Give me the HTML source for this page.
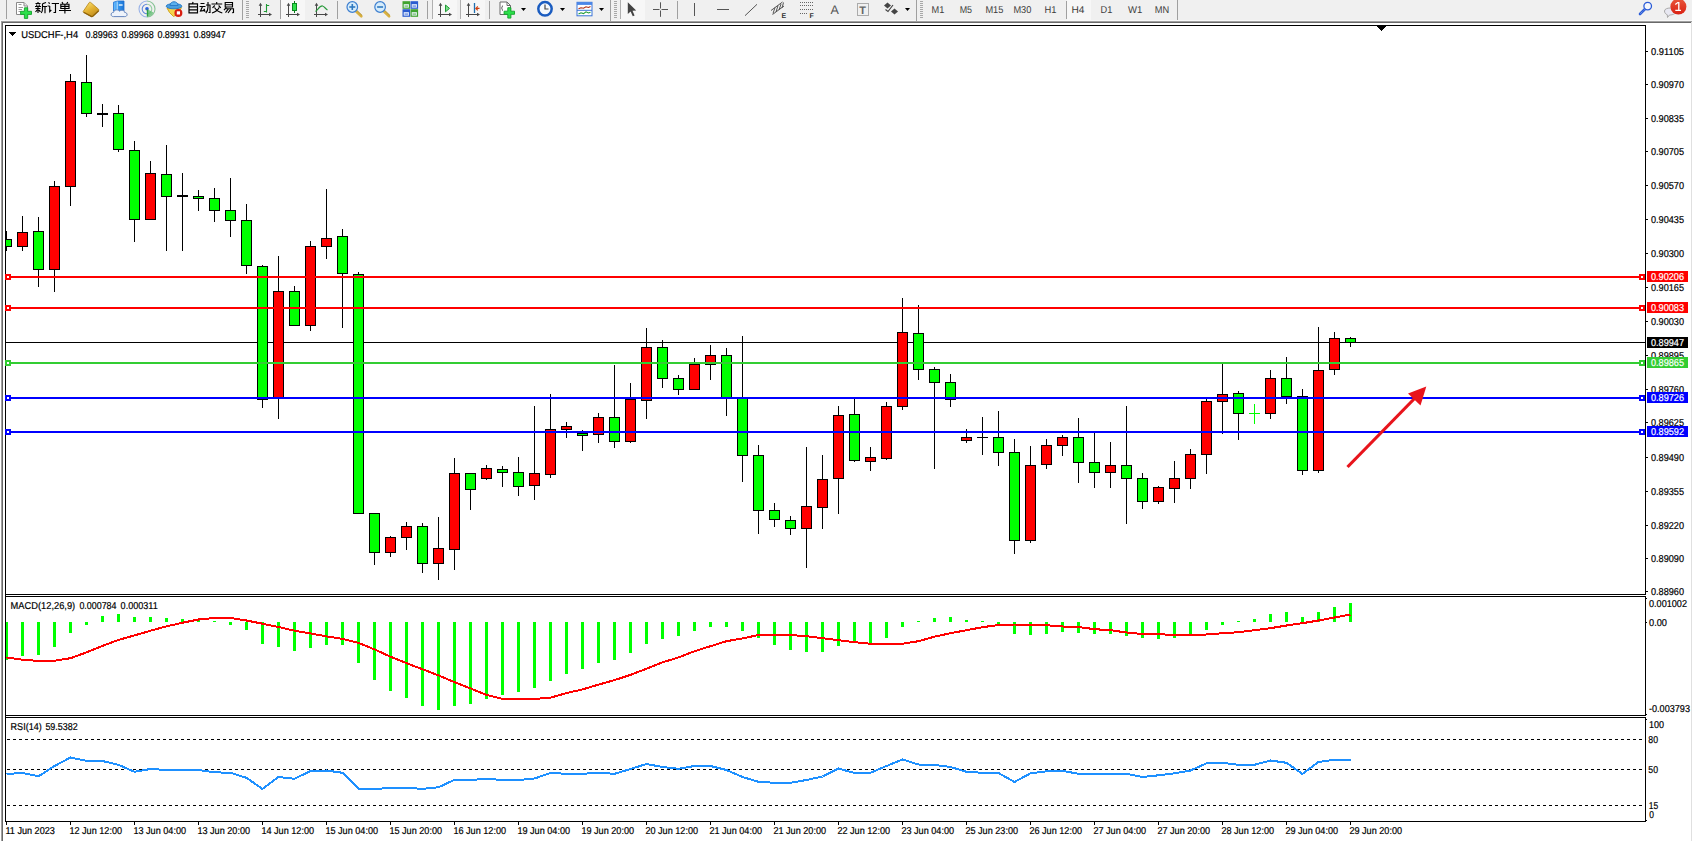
<!DOCTYPE html>
<html><head><meta charset="utf-8"><title>USDCHF H4</title>
<style>
html,body{margin:0;padding:0;background:#fff;}
body{width:1692px;height:841px;overflow:hidden;font-family:"Liberation Sans",sans-serif;}
svg{display:block;position:absolute;left:0;top:0;}
text{font-family:"Liberation Sans",sans-serif;font-size:10px;text-rendering:geometricPrecision;}
.cr{shape-rendering:crispEdges;}
</style></head><body>
<svg width="1692" height="841" viewBox="0 0 1692 841">
<rect x="0" y="0" width="1692" height="841" fill="#ffffff"/>
<g class="cr">
<rect x="0" y="0" width="1692" height="20" fill="#f0f0f0"/>
<rect x="0" y="20" width="1692" height="1" fill="#f8f8f8"/>
<rect x="1" y="21" width="1691" height="1" fill="#a0a0a0"/>
<rect x="2" y="22" width="1689" height="1" fill="#696969"/>
<rect x="1" y="21" width="1" height="820" fill="#a0a0a0"/>
<rect x="2" y="22" width="1" height="819" fill="#696969"/>
<rect x="1691" y="22" width="1" height="819" fill="#e0e0e0"/>
</g>
<rect class="cr" x="6" y="0" width="1" height="19" fill="#a0a0a0"/>
<path d="M16.5,2.5H24L27.5,6V14.5H16.5Z" fill="#fff" stroke="#8a8a8a" stroke-width="1"/>
<path d="M24,2.5V6H27.5" fill="#e8e8e8" stroke="#8a8a8a" stroke-width="1"/>
<path d="M18.5,4.5H21.5M18.5,7.5H23M18.5,9.5H22M18.5,11.5H21" stroke="#999" stroke-width="1"/>
<path d="M24.400,7.800H27.700V11.300H31.500V14.400H27.700V18.400H24.400V14.400H20.600V11.300H24.400Z" fill="#2be04a" stroke="#12a22a" stroke-width="0.900"/>
<g stroke="#000" stroke-width="1.15" fill="none" stroke-linecap="butt">
<path transform="translate(35,2)" d="M3,0V1.5M0.5,1.5H5.5M1.5,2.5L2,4M4.5,2.5L4,4M0,4.5H6M0.5,6.5H5.5M3,4.5V11M2.5,7.5L0.5,10M3.8,8L5.5,9.8M11,0.5L7.5,1.8M7.5,1.8V7C7.5,9 7,10 6.3,11M7.5,4.5H12M10,4.5V11.2"/>
<path transform="translate(47.5,2)" d="M1,0.3L2.2,1.7M0,4H2.2M2.2,4V9.6L3.8,8M4.2,1.5H11.5M8,1.5V10.5H6"/>
<path transform="translate(59,2)" d="M3,0L4,1.7M8.8,0L7.7,1.7M1.8,2.2H10V6.5H1.8ZM1.8,4.3H10M5.9,2.2V11.5M0,8.5H12"/>
</g>
<defs><linearGradient id="gd" x1="0.2" y1="0" x2="0.8" y2="1"><stop offset="0" stop-color="#f9e070"/><stop offset="0.5" stop-color="#e2b030"/><stop offset="1" stop-color="#b9861a"/></linearGradient></defs>
<path d="M83.300,11.300L89.200,2.600Q89.800,1.800 90.600,2.400L98.600,9.300Q99.300,10 98.700,10.700L92.800,16.300Q92,16.900 91.200,16.400L83.600,12.300Q82.900,11.900 83.300,11.300Z" fill="url(#gd)" stroke="#b58418" stroke-width="0.800"/>
<path d="M83.600,12.300L91.200,16.400Q92,16.900 92.800,16.300L98.700,10.700" fill="none" stroke="#8e6208" stroke-width="1.300"/>
<defs><linearGradient id="sv" x1="0" y1="0" x2="1" y2="0"><stop offset="0" stop-color="#6ec0ff"/><stop offset="0.35" stop-color="#3a9cf0"/><stop offset="1" stop-color="#1a74d6"/></linearGradient></defs>
<path d="M113.500,2.200L117.500,1H124V11H113.500Z" fill="url(#sv)" stroke="#1c6fd0" stroke-width="0.800"/>
<path d="M117.200,1.500V10" stroke="#bfe2ff" stroke-width="1"/><path d="M118.800,5H122.600" stroke="#e8f6ff" stroke-width="1.400"/>
<path d="M113.500,16.600C110.200,16.600 110.400,12.300 113.600,12.300C114,9.600 118,9 119.600,11.200C121.200,9.600 124.600,10.200 124.600,12.400C127.900,12.400 127.900,16.600 124.800,16.600Z" fill="#eef3fb" stroke="#6585bd" stroke-width="1"/>
<g fill="none" stroke-width="1.100" opacity="0.850"><path d="M147,1A8,8 0 0 0 147,17" stroke="#8aa8e6"/><path d="M147,1A8,8 0 0 1 147,17" stroke="#74bb84"/><path d="M147,4.200A4.800,4.800 0 0 0 147,13.800" stroke="#4a78d8"/><path d="M147,4.200A4.800,4.800 0 0 1 147,13.800" stroke="#86c894"/></g>
<path d="M147,9L153.500,12.500A7.500,7.500 0 0 1 147,16.500Z" fill="#5abb6c" opacity=".75"/>
<circle cx="147" cy="8.800" r="1.800" fill="#2c62d8"/><path d="M147.500,9.500V16.500" stroke="#2ea043" stroke-width="1.400"/>
<path d="M167,8L181.500,7.500L178,14L173.500,16.500L169.500,12.500Z" fill="#f5d24a" stroke="#d0a520" stroke-width="1"/>
<ellipse cx="174" cy="6.200" rx="7.800" ry="2.600" fill="#4a9fe0" stroke="#2c7cc8" stroke-width="1"/>
<path d="M170,5.500C170,0.500 178,0.500 178,5.500Z" fill="#5cb0ee" stroke="#2c7cc8" stroke-width="1"/>
<circle cx="178.400" cy="12.900" r="4" fill="#d81e10"/><rect x="176.800" y="11.300" width="3.200" height="3.200" fill="#fff"/>
<g stroke="#000" stroke-width="1.15" fill="none">
<path transform="translate(188,2)" d="M5.2,0L4.2,1.8M1,1.8H9.500V10.800H1ZM1,4.900H9.500M1,7.900H9.500"/>
<path transform="translate(199.500,2)" d="M1,1.500H5M0,4.500H6M3,4.500L1,9L5.500,8.400M4.300,6.800L5.600,9.800M6.500,3H11M10.500,3V10.500L9,10.500M8.500,0V5C8.500,8 7.500,9.800 6.300,11"/>
<path transform="translate(211,2)" d="M5.700,0V1.800M0.500,2H11.200M3.800,3.500L1.500,5.800M7.600,3.500L9.800,5.800M8.200,5.500C7,8 4,10 1,11M3.500,5.500C5,8 8,10 11.300,11"/>
<path transform="translate(223,2)" d="M2.200,0.500H9.500V5H2.200ZM2.200,2.700H9.500M3.200,5.500L1,8.200M2.600,6.700H10.500V10.500L9,10.800M5.600,6.700L2.500,10.700M8.200,6.700L5,11"/>
</g>
<rect class="cr" x="242" y="0" width="1" height="20" fill="#a0a0a0"/>
<rect class="cr" x="246" y="1" width="3" height="1" fill="#a8a8a8"/>
<rect class="cr" x="246" y="3" width="3" height="1" fill="#a8a8a8"/>
<rect class="cr" x="246" y="5" width="3" height="1" fill="#a8a8a8"/>
<rect class="cr" x="246" y="7" width="3" height="1" fill="#a8a8a8"/>
<rect class="cr" x="246" y="9" width="3" height="1" fill="#a8a8a8"/>
<rect class="cr" x="246" y="11" width="3" height="1" fill="#a8a8a8"/>
<rect class="cr" x="246" y="13" width="3" height="1" fill="#a8a8a8"/>
<rect class="cr" x="246" y="15" width="3" height="1" fill="#a8a8a8"/>
<rect class="cr" x="246" y="17" width="3" height="1" fill="#a8a8a8"/>
<g stroke="#484848" stroke-width="1" fill="none"><path d="M260.5,4.500V17M258,14.500H270"/></g>
<path d="M260.5,2.800L262.3,5.800H258.7Z M272,14.500L269,12.700V16.300Z" fill="#484848"/>
<path d="M266.500,4V12.500M266.500,5.500H269.200M263.800,11.500H266.500" stroke="#1f9a35" stroke-width="1.100" fill="none"/>
<rect class="cr" x="280" y="0" width="1" height="19" fill="#a0a0a0"/>
<rect class="cr" x="281" y="0" width="24" height="20" fill="#f7f7f7"/>
<g stroke="#484848" stroke-width="1" fill="none"><path d="M288.5,4.500V17M286,14.500H298"/></g>
<path d="M288.5,2.800L290.3,5.800H286.7Z M300,14.500L297,12.700V16.300Z" fill="#484848"/>
<path d="M294.500,1V13" stroke="#0a7a1a" stroke-width="1"/><rect x="292.500" y="3.500" width="4" height="7" fill="#2ee04a" stroke="#0a8a20" stroke-width="1"/>
<g stroke="#484848" stroke-width="1" fill="none"><path d="M316.5,4.500V17M314,14.500H326"/></g>
<path d="M316.5,2.800L318.3,5.800H314.7Z M328,14.500L325,12.700V16.300Z" fill="#484848"/>
<path d="M315.500,11.500C318,9.500 320,5.500 322.500,6C324.500,6.500 325.500,9 327.500,10" stroke="#2a9a3c" stroke-width="1.200" fill="none"/>
<rect class="cr" x="337" y="1" width="1" height="18" fill="#a0a0a0"/>
<path d="M355.8,11L361.3,16.300" stroke="#d8b040" stroke-width="2.600" stroke-linecap="round"/>
<path d="M355.8,11L361.3,16.300" stroke="#a07c18" stroke-width="0.600" fill="none" transform="translate(0.9,-0.9)"/>
<circle cx="352.3" cy="7" r="5.300" fill="#d6ecfb" stroke="#3d7fd0" stroke-width="1.200"/>
<path d="M349.3,7H355.3" stroke="#2f78c0" stroke-width="1.600"/>
<path d="M352.3,4V10" stroke="#2f78c0" stroke-width="1.600"/>
<path d="M383.6,11L389.1,16.300" stroke="#d8b040" stroke-width="2.600" stroke-linecap="round"/>
<path d="M383.6,11L389.1,16.300" stroke="#a07c18" stroke-width="0.600" fill="none" transform="translate(0.9,-0.9)"/>
<circle cx="380.1" cy="7" r="5.300" fill="#d6ecfb" stroke="#3d7fd0" stroke-width="1.200"/>
<path d="M377.1,7H383.1" stroke="#2f78c0" stroke-width="1.600"/>
<rect x="402.5" y="1.2" width="7.600" height="7.600" fill="#3fa32f"/><rect x="403.7" y="4.2" width="5.200" height="3.400" fill="#eef6ff"/><rect x="404.5" y="5.6000000000000005" width="3.600" height="0.900" fill="#3fa32f"/>
<rect x="410.5" y="1.2" width="7.600" height="7.600" fill="#2a5bd0"/><rect x="411.7" y="4.2" width="5.200" height="3.400" fill="#eef6ff"/><rect x="412.5" y="5.6000000000000005" width="3.600" height="0.900" fill="#2a5bd0"/>
<rect x="402.5" y="9.2" width="7.600" height="7.600" fill="#2a5bd0"/><rect x="403.7" y="12.2" width="5.200" height="3.400" fill="#eef6ff"/><rect x="404.5" y="13.6" width="3.600" height="0.900" fill="#2a5bd0"/>
<rect x="410.5" y="9.2" width="7.600" height="7.600" fill="#3fa32f"/><rect x="411.7" y="12.2" width="5.200" height="3.400" fill="#eef6ff"/><rect x="412.5" y="13.6" width="3.600" height="0.900" fill="#3fa32f"/>
<rect class="cr" x="427" y="1" width="1" height="18" fill="#a0a0a0"/>
<rect class="cr" x="432" y="0" width="25" height="20" fill="#f7f7f7"/>
<rect class="cr" x="432" y="0" width="1" height="19" fill="#b0b0b0"/>
<g stroke="#484848" stroke-width="1" fill="none"><path d="M440.5,4.500V17M438,14.500H450"/></g>
<path d="M440.5,2.800L442.3,5.800H438.7Z M452,14.500L449,12.700V16.300Z" fill="#484848"/>
<path d="M445.500,5L449.500,8.400L445.500,11.800Z" fill="#7be08a" stroke="#1f9a35" stroke-width="1"/>
<rect class="cr" x="460" y="0" width="25" height="20" fill="#f7f7f7"/>
<rect class="cr" x="460" y="0" width="1" height="19" fill="#b0b0b0"/>
<g stroke="#484848" stroke-width="1" fill="none"><path d="M468.5,4.500V17M466,14.500H478"/></g>
<path d="M468.5,2.800L470.3,5.800H466.7Z M480,14.500L477,12.700V16.300Z" fill="#484848"/>
<path d="M474.500,3V13" stroke="#1f6fb0" stroke-width="1.300"/><path d="M479.500,8.400H475.800M477.800,6.400L475.800,8.400L477.800,10.400" stroke="#d04010" stroke-width="1.100" fill="none"/>
<rect class="cr" x="489" y="1" width="1" height="18" fill="#a0a0a0"/>
<path d="M500,2H507L510.500,5.500V14.500H500Z" fill="#fff" stroke="#6a6a6a" stroke-width="1"/><path d="M507,2V5.500H510.500" fill="none" stroke="#6a6a6a" stroke-width="1"/>
<path d="M503,5.500C502,5.500 502.500,8 501.500,8C502.500,8 502,10.800 503,10.800" stroke="#555" stroke-width="1" fill="none"/>
<path d="M507.800,7.700H510.900V11.200H514.500V14.300H510.900V18.100H507.800V14.300H504.100V11.200H507.800Z" fill="#2be04a" stroke="#12a22a" stroke-width="0.900"/>
<polygon points="521,8 526,8 523.5,11" fill="#000"/>
<circle cx="545" cy="8.800" r="6.700" fill="#f4f8fc" stroke="#1a5cc0" stroke-width="2.500"/>
<path d="M545,4.500V9H548.500" stroke="#444" stroke-width="1.200" fill="none"/>
<polygon points="560,8 565,8 562.5,11" fill="#000"/>
<rect x="577" y="2.300" width="15" height="13.500" fill="#fff" stroke="#3a74d8" stroke-width="1"/><rect x="577" y="2.300" width="15" height="2.600" fill="#4a86e8"/>
<path d="M578.500,8.800L581,7.800L583.500,8.200L586,6.800L588.500,7.500L590.500,6.500" stroke="#b02a10" stroke-width="1.100" fill="none"/>
<path d="M577,10.300H592" stroke="#3a74d8" stroke-width="1"/>
<path d="M578.500,14L581,12.800L583.500,13.600L586,11.800L588.500,13L590.500,12.200" stroke="#1f9a35" stroke-width="1.100" fill="none"/>
<polygon points="599,8 604,8 601.5,11" fill="#000"/>
<rect class="cr" x="610" y="0" width="1" height="21" fill="#a0a0a0"/>
<rect class="cr" x="614" y="1" width="3" height="1" fill="#a8a8a8"/>
<rect class="cr" x="614" y="3" width="3" height="1" fill="#a8a8a8"/>
<rect class="cr" x="614" y="5" width="3" height="1" fill="#a8a8a8"/>
<rect class="cr" x="614" y="7" width="3" height="1" fill="#a8a8a8"/>
<rect class="cr" x="614" y="9" width="3" height="1" fill="#a8a8a8"/>
<rect class="cr" x="614" y="11" width="3" height="1" fill="#a8a8a8"/>
<rect class="cr" x="614" y="13" width="3" height="1" fill="#a8a8a8"/>
<rect class="cr" x="614" y="15" width="3" height="1" fill="#a8a8a8"/>
<rect class="cr" x="614" y="17" width="3" height="1" fill="#a8a8a8"/>
<rect class="cr" x="620" y="0" width="25" height="20" fill="#f7f7f7"/>
<rect class="cr" x="620" y="0" width="1" height="19" fill="#b0b0b0"/>
<path d="M627.800,2.300V14L630.600,11.500L632.800,16.300L634.600,15.500L632.500,10.800L636.200,10.600Z" fill="#444"/>
<path d="M660.500,2.300V16.800M653,9.500H668" stroke="#555" stroke-width="1" fill="none"/><rect x="659.500" y="8.500" width="2" height="2" fill="#f0f0f0"/>
<rect class="cr" x="677" y="1" width="1" height="18" fill="#a0a0a0"/>
<path d="M694.500,3V16" stroke="#555" stroke-width="1"/>
<path d="M717,9.500H729" stroke="#555" stroke-width="1"/>
<path d="M745,15.700L757,4.300" stroke="#555" stroke-width="1"/>
<g stroke="#555" stroke-width="1" fill="none"><path d="M771,10.500L782.500,2M772.500,14.500L784,6M773,13.500L775,7.500M776,12L778,5.500M779,10L781,4M782,8L783.500,2.500"/></g>
<text x="781.500" y="18" style="font-size:7px" font-weight="bold" fill="#333">E</text>
<g stroke="#666" stroke-width="1" stroke-dasharray="1 1" fill="none"><path d="M800,2.500H813.500M800,5.500H813.500M800,9.500H813.500M800,13.500H808"/></g>
<text x="809.500" y="18" style="font-size:7px" font-weight="bold" fill="#333">F</text>
<text x="830.500" y="14" style="font-size:12.500px" fill="#555">A</text>
<rect x="857.500" y="3.500" width="11" height="12" fill="none" stroke="#666" stroke-width="1" stroke-dasharray="1 1"/>
<text x="859.300" y="13.500" style="font-size:11px" font-weight="bold" fill="#666">T</text>
<path d="M884,5.500L887.500,2.500L891,5.500L887.500,8.500Z" fill="#444"/><path d="M891,11.500L894.500,8.500L898,11.500L894.500,14.500Z" fill="#444"/><path d="M885.500,9.500L888,11.500L893,5" stroke="#444" stroke-width="1.200" fill="none"/>
<polygon points="905,8 910,8 907.5,11" fill="#000"/>
<rect class="cr" x="916" y="0" width="1" height="21" fill="#a0a0a0"/>
<rect class="cr" x="920" y="1" width="3" height="1" fill="#a8a8a8"/>
<rect class="cr" x="920" y="3" width="3" height="1" fill="#a8a8a8"/>
<rect class="cr" x="920" y="5" width="3" height="1" fill="#a8a8a8"/>
<rect class="cr" x="920" y="7" width="3" height="1" fill="#a8a8a8"/>
<rect class="cr" x="920" y="9" width="3" height="1" fill="#a8a8a8"/>
<rect class="cr" x="920" y="11" width="3" height="1" fill="#a8a8a8"/>
<rect class="cr" x="920" y="13" width="3" height="1" fill="#a8a8a8"/>
<rect class="cr" x="920" y="15" width="3" height="1" fill="#a8a8a8"/>
<rect class="cr" x="920" y="17" width="3" height="1" fill="#a8a8a8"/>
<text x="931.5" y="13" style="font-size:10px" fill="#3c3c3c" textLength="12.8" lengthAdjust="spacingAndGlyphs">M1</text>
<text x="959.7" y="13" style="font-size:10px" fill="#3c3c3c" textLength="12.4" lengthAdjust="spacingAndGlyphs">M5</text>
<text x="985.4" y="13" style="font-size:10px" fill="#3c3c3c" textLength="18" lengthAdjust="spacingAndGlyphs">M15</text>
<text x="1013.4" y="13" style="font-size:10px" fill="#3c3c3c" textLength="18" lengthAdjust="spacingAndGlyphs">M30</text>
<text x="1044.6" y="13" style="font-size:10px" fill="#3c3c3c" textLength="12" lengthAdjust="spacingAndGlyphs">H1</text>
<rect class="cr" x="1067" y="0" width="24" height="20" fill="#f7f7f7"/>
<rect class="cr" x="1066" y="1" width="1" height="18" fill="#a0a0a0"/>
<text x="1071.5" y="13" style="font-size:10px" fill="#3c3c3c" textLength="13" lengthAdjust="spacingAndGlyphs">H4</text>
<text x="1100.6" y="13" style="font-size:10px" fill="#3c3c3c" textLength="11.8" lengthAdjust="spacingAndGlyphs">D1</text>
<text x="1128" y="13" style="font-size:10px" fill="#3c3c3c" textLength="14.3" lengthAdjust="spacingAndGlyphs">W1</text>
<text x="1154.8" y="13" style="font-size:10px" fill="#3c3c3c" textLength="14.4" lengthAdjust="spacingAndGlyphs">MN</text>
<rect class="cr" x="1177" y="0" width="1" height="20" fill="#a0a0a0"/>
<path d="M1644.800,9.300L1640,14" stroke="#2a5bd7" stroke-width="2.600" stroke-linecap="round"/><path d="M1644.800,9.300L1640,14" stroke="#9db8f0" stroke-width="0.800" stroke-dasharray="1 1"/>
<circle cx="1647.700" cy="6.100" r="3.800" fill="#f4f6fb" stroke="#2a5bd7" stroke-width="1.300"/>
<path d="M1664.500,11C1664.500,7 1676,7 1676,11C1676,14.500 1671,15 1669.500,15L1667.500,17.500L1667.300,14.800C1665.500,14 1664.500,12.800 1664.500,11Z" fill="#e8e8f2" stroke="#aaa" stroke-width="1"/>
<defs><linearGradient id="bg" x1="0" y1="0" x2="0" y2="1"><stop offset="0" stop-color="#e9573a"/><stop offset="1" stop-color="#d92012"/></linearGradient></defs>
<circle cx="1678.400" cy="6.600" r="8" fill="url(#bg)"/>
<path d="M1675.300,4.500L1677.800,2.600H1678.800V10.200M1675.300,10.400H1681" stroke="#fff" stroke-width="1.300" fill="none"/>
<g class="cr" fill="#000">
<rect x="5" y="25" width="1641" height="1" fill="#000"/>
<rect x="5" y="25" width="1" height="797" fill="#000"/>
<rect x="1645" y="25" width="1" height="797" fill="#000"/>
<rect x="5" y="594" width="1641" height="1" fill="#000"/>
<rect x="5" y="596" width="1641" height="1" fill="#000"/>
<rect x="5" y="715" width="1641" height="1" fill="#000"/>
<rect x="5" y="717" width="1641" height="1" fill="#000"/>
<rect x="1645" y="595" width="1" height="1" fill="#fff"/>
<rect x="1645" y="716" width="1" height="1" fill="#fff"/>
<rect x="1646" y="598" width="1" height="1" fill="#000"/>
<rect x="1646" y="714" width="1" height="1" fill="#000"/>
<rect x="1646" y="719" width="1" height="1" fill="#000"/>
<rect x="1646" y="820" width="1" height="1" fill="#000"/>
<rect x="5" y="821" width="1641" height="1" fill="#000"/>
</g>
<g class="cr">
<rect x="6" y="342" width="1639" height="1" fill="#000"/>
</g>
<g class="cr">
<rect x="6" y="231" width="1" height="20" fill="#000"/>
<rect x="1" y="239" width="11" height="8" fill="#000"/>
<rect x="2" y="240" width="9" height="6" fill="#00ff00"/>
<rect x="22" y="216" width="1" height="35" fill="#000"/>
<rect x="17" y="232" width="11" height="15" fill="#000"/>
<rect x="18" y="233" width="9" height="13" fill="#ff0000"/>
<rect x="38" y="217" width="1" height="70" fill="#000"/>
<rect x="33" y="231" width="11" height="39" fill="#000"/>
<rect x="34" y="232" width="9" height="37" fill="#00ff00"/>
<rect x="54" y="181" width="1" height="111" fill="#000"/>
<rect x="49" y="186" width="11" height="84" fill="#000"/>
<rect x="50" y="187" width="9" height="82" fill="#ff0000"/>
<rect x="70" y="74" width="1" height="132" fill="#000"/>
<rect x="65" y="81" width="11" height="106" fill="#000"/>
<rect x="66" y="82" width="9" height="104" fill="#ff0000"/>
<rect x="86" y="55" width="1" height="62" fill="#000"/>
<rect x="81" y="82" width="11" height="32" fill="#000"/>
<rect x="82" y="83" width="9" height="30" fill="#00ff00"/>
<rect x="102" y="104" width="1" height="23" fill="#000"/>
<rect x="97" y="113" width="11" height="2" fill="#000"/>
<rect x="118" y="105" width="1" height="47" fill="#000"/>
<rect x="113" y="113" width="11" height="37" fill="#000"/>
<rect x="114" y="114" width="9" height="35" fill="#00ff00"/>
<rect x="134" y="141" width="1" height="101" fill="#000"/>
<rect x="129" y="150" width="11" height="70" fill="#000"/>
<rect x="130" y="151" width="9" height="68" fill="#00ff00"/>
<rect x="150" y="161" width="1" height="59" fill="#000"/>
<rect x="145" y="173" width="11" height="47" fill="#000"/>
<rect x="146" y="174" width="9" height="45" fill="#ff0000"/>
<rect x="166" y="145" width="1" height="106" fill="#000"/>
<rect x="161" y="174" width="11" height="23" fill="#000"/>
<rect x="162" y="175" width="9" height="21" fill="#00ff00"/>
<rect x="182" y="173" width="1" height="78" fill="#000"/>
<rect x="177" y="195" width="11" height="2" fill="#000"/>
<rect x="198" y="190" width="1" height="21" fill="#000"/>
<rect x="193" y="196" width="11" height="3" fill="#000"/>
<rect x="194" y="197" width="9" height="1" fill="#00ff00"/>
<rect x="214" y="188" width="1" height="34" fill="#000"/>
<rect x="209" y="198" width="11" height="13" fill="#000"/>
<rect x="210" y="199" width="9" height="11" fill="#00ff00"/>
<rect x="230" y="178" width="1" height="59" fill="#000"/>
<rect x="225" y="210" width="11" height="11" fill="#000"/>
<rect x="226" y="211" width="9" height="9" fill="#00ff00"/>
<rect x="246" y="204" width="1" height="70" fill="#000"/>
<rect x="241" y="220" width="11" height="46" fill="#000"/>
<rect x="242" y="221" width="9" height="44" fill="#00ff00"/>
<rect x="262" y="265" width="1" height="143" fill="#000"/>
<rect x="257" y="266" width="11" height="134" fill="#000"/>
<rect x="258" y="267" width="9" height="132" fill="#00ff00"/>
<rect x="278" y="256" width="1" height="163" fill="#000"/>
<rect x="273" y="291" width="11" height="107" fill="#000"/>
<rect x="274" y="292" width="9" height="105" fill="#ff0000"/>
<rect x="294" y="286" width="1" height="40" fill="#000"/>
<rect x="289" y="291" width="11" height="35" fill="#000"/>
<rect x="290" y="292" width="9" height="33" fill="#00ff00"/>
<rect x="310" y="241" width="1" height="90" fill="#000"/>
<rect x="305" y="246" width="11" height="80" fill="#000"/>
<rect x="306" y="247" width="9" height="78" fill="#ff0000"/>
<rect x="326" y="189" width="1" height="70" fill="#000"/>
<rect x="321" y="238" width="11" height="9" fill="#000"/>
<rect x="322" y="239" width="9" height="7" fill="#ff0000"/>
<rect x="342" y="229" width="1" height="99" fill="#000"/>
<rect x="337" y="236" width="11" height="38" fill="#000"/>
<rect x="338" y="237" width="9" height="36" fill="#00ff00"/>
<rect x="358" y="272" width="1" height="242" fill="#000"/>
<rect x="353" y="274" width="11" height="240" fill="#000"/>
<rect x="354" y="275" width="9" height="238" fill="#00ff00"/>
<rect x="374" y="513" width="1" height="52" fill="#000"/>
<rect x="369" y="513" width="11" height="40" fill="#000"/>
<rect x="370" y="514" width="9" height="38" fill="#00ff00"/>
<rect x="390" y="536" width="1" height="21" fill="#000"/>
<rect x="385" y="537" width="11" height="16" fill="#000"/>
<rect x="386" y="538" width="9" height="14" fill="#ff0000"/>
<rect x="406" y="522" width="1" height="28" fill="#000"/>
<rect x="401" y="526" width="11" height="12" fill="#000"/>
<rect x="402" y="527" width="9" height="10" fill="#ff0000"/>
<rect x="422" y="523" width="1" height="50" fill="#000"/>
<rect x="417" y="526" width="11" height="38" fill="#000"/>
<rect x="418" y="527" width="9" height="36" fill="#00ff00"/>
<rect x="438" y="517" width="1" height="63" fill="#000"/>
<rect x="433" y="548" width="11" height="16" fill="#000"/>
<rect x="434" y="549" width="9" height="14" fill="#ff0000"/>
<rect x="454" y="458" width="1" height="112" fill="#000"/>
<rect x="449" y="473" width="11" height="77" fill="#000"/>
<rect x="450" y="474" width="9" height="75" fill="#ff0000"/>
<rect x="470" y="473" width="1" height="37" fill="#000"/>
<rect x="465" y="473" width="11" height="17" fill="#000"/>
<rect x="466" y="474" width="9" height="15" fill="#00ff00"/>
<rect x="486" y="465" width="1" height="15" fill="#000"/>
<rect x="481" y="468" width="11" height="11" fill="#000"/>
<rect x="482" y="469" width="9" height="9" fill="#ff0000"/>
<rect x="502" y="466" width="1" height="21" fill="#000"/>
<rect x="497" y="469" width="11" height="4" fill="#000"/>
<rect x="498" y="470" width="9" height="2" fill="#00ff00"/>
<rect x="518" y="457" width="1" height="39" fill="#000"/>
<rect x="513" y="472" width="11" height="15" fill="#000"/>
<rect x="514" y="473" width="9" height="13" fill="#00ff00"/>
<rect x="534" y="406" width="1" height="94" fill="#000"/>
<rect x="529" y="473" width="11" height="13" fill="#000"/>
<rect x="530" y="474" width="9" height="11" fill="#ff0000"/>
<rect x="550" y="394" width="1" height="84" fill="#000"/>
<rect x="545" y="429" width="11" height="46" fill="#000"/>
<rect x="546" y="430" width="9" height="44" fill="#ff0000"/>
<rect x="566" y="422" width="1" height="16" fill="#000"/>
<rect x="561" y="426" width="11" height="4" fill="#000"/>
<rect x="562" y="427" width="9" height="2" fill="#ff0000"/>
<rect x="582" y="430" width="1" height="21" fill="#000"/>
<rect x="577" y="433" width="11" height="3" fill="#000"/>
<rect x="578" y="434" width="9" height="1" fill="#00ff00"/>
<rect x="598" y="413" width="1" height="30" fill="#000"/>
<rect x="593" y="417" width="11" height="18" fill="#000"/>
<rect x="594" y="418" width="9" height="16" fill="#ff0000"/>
<rect x="614" y="365" width="1" height="83" fill="#000"/>
<rect x="609" y="417" width="11" height="25" fill="#000"/>
<rect x="610" y="418" width="9" height="23" fill="#00ff00"/>
<rect x="630" y="383" width="1" height="60" fill="#000"/>
<rect x="625" y="399" width="11" height="43" fill="#000"/>
<rect x="626" y="400" width="9" height="41" fill="#ff0000"/>
<rect x="646" y="328" width="1" height="91" fill="#000"/>
<rect x="641" y="347" width="11" height="54" fill="#000"/>
<rect x="642" y="348" width="9" height="52" fill="#ff0000"/>
<rect x="662" y="340" width="1" height="48" fill="#000"/>
<rect x="657" y="347" width="11" height="32" fill="#000"/>
<rect x="658" y="348" width="9" height="30" fill="#00ff00"/>
<rect x="678" y="375" width="1" height="20" fill="#000"/>
<rect x="673" y="378" width="11" height="12" fill="#000"/>
<rect x="674" y="379" width="9" height="10" fill="#00ff00"/>
<rect x="694" y="358" width="1" height="32" fill="#000"/>
<rect x="689" y="364" width="11" height="26" fill="#000"/>
<rect x="690" y="365" width="9" height="24" fill="#ff0000"/>
<rect x="710" y="345" width="1" height="35" fill="#000"/>
<rect x="705" y="355" width="11" height="10" fill="#000"/>
<rect x="706" y="356" width="9" height="8" fill="#ff0000"/>
<rect x="726" y="348" width="1" height="68" fill="#000"/>
<rect x="721" y="355" width="11" height="44" fill="#000"/>
<rect x="722" y="356" width="9" height="42" fill="#00ff00"/>
<rect x="742" y="336" width="1" height="146" fill="#000"/>
<rect x="737" y="398" width="11" height="58" fill="#000"/>
<rect x="738" y="399" width="9" height="56" fill="#00ff00"/>
<rect x="758" y="445" width="1" height="89" fill="#000"/>
<rect x="753" y="455" width="11" height="56" fill="#000"/>
<rect x="754" y="456" width="9" height="54" fill="#00ff00"/>
<rect x="774" y="503" width="1" height="24" fill="#000"/>
<rect x="769" y="510" width="11" height="10" fill="#000"/>
<rect x="770" y="511" width="9" height="8" fill="#00ff00"/>
<rect x="790" y="516" width="1" height="19" fill="#000"/>
<rect x="785" y="520" width="11" height="9" fill="#000"/>
<rect x="786" y="521" width="9" height="7" fill="#00ff00"/>
<rect x="806" y="447" width="1" height="121" fill="#000"/>
<rect x="801" y="506" width="11" height="23" fill="#000"/>
<rect x="802" y="507" width="9" height="21" fill="#ff0000"/>
<rect x="822" y="455" width="1" height="74" fill="#000"/>
<rect x="817" y="479" width="11" height="29" fill="#000"/>
<rect x="818" y="480" width="9" height="27" fill="#ff0000"/>
<rect x="838" y="406" width="1" height="108" fill="#000"/>
<rect x="833" y="415" width="11" height="64" fill="#000"/>
<rect x="834" y="416" width="9" height="62" fill="#ff0000"/>
<rect x="854" y="399" width="1" height="63" fill="#000"/>
<rect x="849" y="414" width="11" height="47" fill="#000"/>
<rect x="850" y="415" width="9" height="45" fill="#00ff00"/>
<rect x="870" y="447" width="1" height="24" fill="#000"/>
<rect x="865" y="457" width="11" height="5" fill="#000"/>
<rect x="866" y="458" width="9" height="3" fill="#ff0000"/>
<rect x="886" y="402" width="1" height="58" fill="#000"/>
<rect x="881" y="406" width="11" height="53" fill="#000"/>
<rect x="882" y="407" width="9" height="51" fill="#ff0000"/>
<rect x="902" y="298" width="1" height="112" fill="#000"/>
<rect x="897" y="332" width="11" height="75" fill="#000"/>
<rect x="898" y="333" width="9" height="73" fill="#ff0000"/>
<rect x="918" y="305" width="1" height="75" fill="#000"/>
<rect x="913" y="333" width="11" height="37" fill="#000"/>
<rect x="914" y="334" width="9" height="35" fill="#00ff00"/>
<rect x="934" y="367" width="1" height="102" fill="#000"/>
<rect x="929" y="369" width="11" height="14" fill="#000"/>
<rect x="930" y="370" width="9" height="12" fill="#00ff00"/>
<rect x="950" y="374" width="1" height="33" fill="#000"/>
<rect x="945" y="382" width="11" height="18" fill="#000"/>
<rect x="946" y="383" width="9" height="16" fill="#00ff00"/>
<rect x="966" y="429" width="1" height="14" fill="#000"/>
<rect x="961" y="437" width="11" height="4" fill="#000"/>
<rect x="962" y="438" width="9" height="2" fill="#ff0000"/>
<rect x="982" y="417" width="1" height="38" fill="#000"/>
<rect x="977" y="437" width="11" height="1" fill="#000"/>
<rect x="998" y="411" width="1" height="55" fill="#000"/>
<rect x="993" y="437" width="11" height="16" fill="#000"/>
<rect x="994" y="438" width="9" height="14" fill="#00ff00"/>
<rect x="1014" y="439" width="1" height="115" fill="#000"/>
<rect x="1009" y="452" width="11" height="89" fill="#000"/>
<rect x="1010" y="453" width="9" height="87" fill="#00ff00"/>
<rect x="1030" y="446" width="1" height="97" fill="#000"/>
<rect x="1025" y="465" width="11" height="76" fill="#000"/>
<rect x="1026" y="466" width="9" height="74" fill="#ff0000"/>
<rect x="1046" y="439" width="1" height="30" fill="#000"/>
<rect x="1041" y="445" width="11" height="20" fill="#000"/>
<rect x="1042" y="446" width="9" height="18" fill="#ff0000"/>
<rect x="1062" y="435" width="1" height="21" fill="#000"/>
<rect x="1057" y="437" width="11" height="9" fill="#000"/>
<rect x="1058" y="438" width="9" height="7" fill="#ff0000"/>
<rect x="1078" y="418" width="1" height="65" fill="#000"/>
<rect x="1073" y="437" width="11" height="26" fill="#000"/>
<rect x="1074" y="438" width="9" height="24" fill="#00ff00"/>
<rect x="1094" y="433" width="1" height="55" fill="#000"/>
<rect x="1089" y="462" width="11" height="11" fill="#000"/>
<rect x="1090" y="463" width="9" height="9" fill="#00ff00"/>
<rect x="1110" y="442" width="1" height="46" fill="#000"/>
<rect x="1105" y="465" width="11" height="8" fill="#000"/>
<rect x="1106" y="466" width="9" height="6" fill="#ff0000"/>
<rect x="1126" y="406" width="1" height="118" fill="#000"/>
<rect x="1121" y="465" width="11" height="14" fill="#000"/>
<rect x="1122" y="466" width="9" height="12" fill="#00ff00"/>
<rect x="1142" y="473" width="1" height="36" fill="#000"/>
<rect x="1137" y="478" width="11" height="24" fill="#000"/>
<rect x="1138" y="479" width="9" height="22" fill="#00ff00"/>
<rect x="1158" y="486" width="1" height="18" fill="#000"/>
<rect x="1153" y="487" width="11" height="15" fill="#000"/>
<rect x="1154" y="488" width="9" height="13" fill="#ff0000"/>
<rect x="1174" y="461" width="1" height="42" fill="#000"/>
<rect x="1169" y="478" width="11" height="11" fill="#000"/>
<rect x="1170" y="479" width="9" height="9" fill="#ff0000"/>
<rect x="1190" y="449" width="1" height="40" fill="#000"/>
<rect x="1185" y="454" width="11" height="25" fill="#000"/>
<rect x="1186" y="455" width="9" height="23" fill="#ff0000"/>
<rect x="1206" y="399" width="1" height="75" fill="#000"/>
<rect x="1201" y="401" width="11" height="54" fill="#000"/>
<rect x="1202" y="402" width="9" height="52" fill="#ff0000"/>
<rect x="1222" y="364" width="1" height="70" fill="#000"/>
<rect x="1217" y="394" width="11" height="8" fill="#000"/>
<rect x="1218" y="395" width="9" height="6" fill="#ff0000"/>
<rect x="1238" y="391" width="1" height="49" fill="#000"/>
<rect x="1233" y="393" width="11" height="21" fill="#000"/>
<rect x="1234" y="394" width="9" height="19" fill="#00ff00"/>
<rect x="1254" y="404" width="1" height="20" fill="#00ff00"/>
<rect x="1249" y="413" width="11" height="1" fill="#00ff00"/>
<rect x="1270" y="370" width="1" height="49" fill="#000"/>
<rect x="1265" y="378" width="11" height="36" fill="#000"/>
<rect x="1266" y="379" width="9" height="34" fill="#ff0000"/>
<rect x="1286" y="357" width="1" height="47" fill="#000"/>
<rect x="1281" y="378" width="11" height="19" fill="#000"/>
<rect x="1282" y="379" width="9" height="17" fill="#00ff00"/>
<rect x="1302" y="389" width="1" height="86" fill="#000"/>
<rect x="1297" y="396" width="11" height="75" fill="#000"/>
<rect x="1298" y="397" width="9" height="73" fill="#00ff00"/>
<rect x="1318" y="327" width="1" height="146" fill="#000"/>
<rect x="1313" y="370" width="11" height="101" fill="#000"/>
<rect x="1314" y="371" width="9" height="99" fill="#ff0000"/>
<rect x="1334" y="332" width="1" height="43" fill="#000"/>
<rect x="1329" y="338" width="11" height="32" fill="#000"/>
<rect x="1330" y="339" width="9" height="30" fill="#ff0000"/>
<rect x="1350" y="337" width="1" height="10" fill="#000"/>
<rect x="1345" y="338" width="11" height="5" fill="#000"/>
<rect x="1346" y="339" width="9" height="3" fill="#00ff00"/>
</g>
<g class="cr">
<rect x="6" y="276" width="1639" height="2" fill="#ff0000"/>
<rect x="1639" y="274" width="6" height="6" fill="#ff0000"/>
<rect x="1641" y="276" width="2" height="2" fill="#fff"/>
<rect x="6" y="307" width="1639" height="2" fill="#ff0000"/>
<rect x="1639" y="305" width="6" height="6" fill="#ff0000"/>
<rect x="1641" y="307" width="2" height="2" fill="#fff"/>
<rect x="6" y="362" width="1639" height="2" fill="#32cd32"/>
<rect x="1639" y="360" width="6" height="6" fill="#32cd32"/>
<rect x="1641" y="362" width="2" height="2" fill="#fff"/>
<rect x="6" y="397" width="1639" height="2" fill="#0000ff"/>
<rect x="1639" y="395" width="6" height="6" fill="#0000ff"/>
<rect x="1641" y="397" width="2" height="2" fill="#fff"/>
<rect x="6" y="431" width="1639" height="2" fill="#0000ff"/>
<rect x="1639" y="429" width="6" height="6" fill="#0000ff"/>
<rect x="1641" y="431" width="2" height="2" fill="#fff"/>
</g>
<g class="cr">
<rect x="0" y="23" width="5" height="841" fill="#fff"/>
<rect x="1" y="21" width="1" height="820" fill="#a0a0a0"/>
<rect x="2" y="22" width="1" height="819" fill="#696969"/>
<rect x="5" y="25" width="1" height="797" fill="#000"/>
</g>
<g class="cr">
<rect x="5" y="622" width="3" height="38" fill="#00ff00"/>
<rect x="21" y="622" width="3" height="34" fill="#00ff00"/>
<rect x="37" y="622" width="3" height="33" fill="#00ff00"/>
<rect x="53" y="622" width="3" height="25" fill="#00ff00"/>
<rect x="69" y="622" width="3" height="11" fill="#00ff00"/>
<rect x="85" y="622" width="3" height="3" fill="#00ff00"/>
<rect x="101" y="616" width="3" height="6" fill="#00ff00"/>
<rect x="117" y="614" width="3" height="8" fill="#00ff00"/>
<rect x="133" y="617" width="3" height="5" fill="#00ff00"/>
<rect x="149" y="617" width="3" height="5" fill="#00ff00"/>
<rect x="165" y="618" width="3" height="4" fill="#00ff00"/>
<rect x="181" y="619" width="3" height="3" fill="#00ff00"/>
<rect x="197" y="620" width="3" height="2" fill="#00ff00"/>
<rect x="213" y="621" width="3" height="1" fill="#00ff00"/>
<rect x="229" y="622" width="3" height="3" fill="#00ff00"/>
<rect x="245" y="622" width="3" height="8" fill="#00ff00"/>
<rect x="261" y="622" width="3" height="22" fill="#00ff00"/>
<rect x="277" y="622" width="3" height="25" fill="#00ff00"/>
<rect x="293" y="622" width="3" height="29" fill="#00ff00"/>
<rect x="309" y="622" width="3" height="26" fill="#00ff00"/>
<rect x="325" y="622" width="3" height="23" fill="#00ff00"/>
<rect x="341" y="622" width="3" height="23" fill="#00ff00"/>
<rect x="357" y="622" width="3" height="41" fill="#00ff00"/>
<rect x="373" y="622" width="3" height="58" fill="#00ff00"/>
<rect x="389" y="622" width="3" height="69" fill="#00ff00"/>
<rect x="405" y="622" width="3" height="76" fill="#00ff00"/>
<rect x="421" y="622" width="3" height="84" fill="#00ff00"/>
<rect x="437" y="622" width="3" height="88" fill="#00ff00"/>
<rect x="453" y="622" width="3" height="84" fill="#00ff00"/>
<rect x="469" y="622" width="3" height="82" fill="#00ff00"/>
<rect x="485" y="622" width="3" height="77" fill="#00ff00"/>
<rect x="501" y="622" width="3" height="73" fill="#00ff00"/>
<rect x="517" y="622" width="3" height="70" fill="#00ff00"/>
<rect x="533" y="622" width="3" height="66" fill="#00ff00"/>
<rect x="549" y="622" width="3" height="59" fill="#00ff00"/>
<rect x="565" y="622" width="3" height="52" fill="#00ff00"/>
<rect x="581" y="622" width="3" height="47" fill="#00ff00"/>
<rect x="597" y="622" width="3" height="41" fill="#00ff00"/>
<rect x="613" y="622" width="3" height="38" fill="#00ff00"/>
<rect x="629" y="622" width="3" height="31" fill="#00ff00"/>
<rect x="645" y="622" width="3" height="22" fill="#00ff00"/>
<rect x="661" y="622" width="3" height="17" fill="#00ff00"/>
<rect x="677" y="622" width="3" height="14" fill="#00ff00"/>
<rect x="693" y="622" width="3" height="9" fill="#00ff00"/>
<rect x="709" y="622" width="3" height="5" fill="#00ff00"/>
<rect x="725" y="622" width="3" height="5" fill="#00ff00"/>
<rect x="741" y="622" width="3" height="9" fill="#00ff00"/>
<rect x="757" y="622" width="3" height="16" fill="#00ff00"/>
<rect x="773" y="622" width="3" height="23" fill="#00ff00"/>
<rect x="789" y="622" width="3" height="28" fill="#00ff00"/>
<rect x="805" y="622" width="3" height="30" fill="#00ff00"/>
<rect x="821" y="622" width="3" height="30" fill="#00ff00"/>
<rect x="837" y="622" width="3" height="24" fill="#00ff00"/>
<rect x="853" y="622" width="3" height="21" fill="#00ff00"/>
<rect x="869" y="622" width="3" height="22" fill="#00ff00"/>
<rect x="885" y="622" width="3" height="16" fill="#00ff00"/>
<rect x="901" y="622" width="3" height="5" fill="#00ff00"/>
<rect x="917" y="621" width="3" height="1" fill="#00ff00"/>
<rect x="933" y="618" width="3" height="4" fill="#00ff00"/>
<rect x="949" y="617" width="3" height="5" fill="#00ff00"/>
<rect x="965" y="620" width="3" height="2" fill="#00ff00"/>
<rect x="981" y="621" width="3" height="1" fill="#00ff00"/>
<rect x="997" y="622" width="3" height="4" fill="#00ff00"/>
<rect x="1013" y="622" width="3" height="12" fill="#00ff00"/>
<rect x="1029" y="622" width="3" height="13" fill="#00ff00"/>
<rect x="1045" y="622" width="3" height="12" fill="#00ff00"/>
<rect x="1061" y="622" width="3" height="10" fill="#00ff00"/>
<rect x="1077" y="622" width="3" height="11" fill="#00ff00"/>
<rect x="1093" y="622" width="3" height="12" fill="#00ff00"/>
<rect x="1109" y="622" width="3" height="12" fill="#00ff00"/>
<rect x="1125" y="622" width="3" height="14" fill="#00ff00"/>
<rect x="1141" y="622" width="3" height="16" fill="#00ff00"/>
<rect x="1157" y="622" width="3" height="17" fill="#00ff00"/>
<rect x="1173" y="622" width="3" height="16" fill="#00ff00"/>
<rect x="1189" y="622" width="3" height="14" fill="#00ff00"/>
<rect x="1205" y="622" width="3" height="8" fill="#00ff00"/>
<rect x="1221" y="622" width="3" height="3" fill="#00ff00"/>
<rect x="1237" y="621" width="3" height="1" fill="#00ff00"/>
<rect x="1253" y="619" width="3" height="3" fill="#00ff00"/>
<rect x="1269" y="614" width="3" height="8" fill="#00ff00"/>
<rect x="1285" y="612" width="3" height="10" fill="#00ff00"/>
<rect x="1301" y="617" width="3" height="5" fill="#00ff00"/>
<rect x="1317" y="612" width="3" height="10" fill="#00ff00"/>
<rect x="1333" y="607" width="3" height="15" fill="#00ff00"/>
<rect x="1349" y="603" width="3" height="19" fill="#00ff00"/>
</g>
<polyline points="6.5,657.4 22.5,659.7 38.5,660.9 54.5,660.7 70.5,658.2 86.5,652.4 102.5,645.9 118.5,639.9 134.5,635.4 150.5,630.7 166.5,626.4 182.5,622.7 198.5,619.5 214.5,618.0 230.5,618.0 246.5,620.5 262.5,623.7 278.5,627.0 294.5,630.7 310.5,633.4 326.5,636.4 342.5,638.9 358.5,642.9 374.5,649.4 390.5,656.7 406.5,663.2 422.5,669.2 438.5,675.4 454.5,682.1 470.5,688.4 486.5,694.9 502.5,698.9 518.5,699.0 534.5,699.0 550.5,697.6 566.5,693.1 582.5,689.4 598.5,684.6 614.5,680.1 630.5,674.9 646.5,668.7 662.5,662.4 678.5,657.4 694.5,651.2 710.5,646.2 726.5,641.2 742.5,638.4 758.5,635.0 774.5,635.0 790.5,635.0 806.5,636.2 822.5,638.2 838.5,640.2 854.5,642.2 870.5,643.7 886.5,643.7 902.5,643.7 918.5,641.2 934.5,636.7 950.5,633.2 966.5,630.2 982.5,627.2 998.5,625.0 1014.5,624.5 1030.5,624.5 1046.5,625.2 1062.5,626.5 1078.5,627.0 1094.5,629.2 1110.5,630.2 1126.5,632.5 1142.5,634.0 1158.5,634.2 1174.5,635.0 1190.5,635.0 1206.5,634.5 1222.5,633.2 1238.5,632.2 1254.5,630.2 1270.5,628.2 1286.5,625.5 1302.5,623.2 1318.5,620.5 1334.5,617.5 1350.5,614.5" fill="none" stroke="#ff0000" stroke-width="2" stroke-linejoin="round" shape-rendering="crispEdges"/>
<g class="cr">
<line x1="7" y1="739.5" x2="1645" y2="739.5" stroke="#000" stroke-width="1" stroke-dasharray="3 3"/>
<line x1="7" y1="769.5" x2="1645" y2="769.5" stroke="#000" stroke-width="1" stroke-dasharray="3 3"/>
<line x1="7" y1="805.5" x2="1645" y2="805.5" stroke="#000" stroke-width="1" stroke-dasharray="3 3"/>
</g>
<polyline points="6.5,774.0 22.5,773.0 38.5,776.3 54.5,766.0 70.5,757.5 86.5,760.8 102.5,761.0 118.5,764.8 134.5,771.8 150.5,769.0 166.5,770.0 182.5,770.0 198.5,770.0 214.5,772.3 230.5,772.8 246.5,777.8 262.5,789.0 278.5,777.0 294.5,778.8 310.5,771.0 326.5,770.5 342.5,772.8 358.5,788.7 374.5,789.0 390.5,788.0 406.5,788.0 422.5,788.8 438.5,787.3 454.5,779.8 470.5,780.0 486.5,778.8 502.5,780.0 518.5,780.0 534.5,778.5 550.5,773.0 566.5,773.8 582.5,773.8 598.5,772.8 614.5,773.8 630.5,769.0 646.5,764.0 662.5,767.0 678.5,768.8 694.5,766.0 710.5,766.0 726.5,770.0 742.5,777.0 758.5,781.8 774.5,782.8 790.5,782.8 806.5,780.0 822.5,776.5 838.5,768.5 854.5,773.0 870.5,772.8 886.5,766.0 902.5,759.5 918.5,764.5 934.5,765.0 950.5,767.0 966.5,771.8 982.5,772.8 998.5,773.0 1014.5,782.0 1030.5,773.3 1046.5,771.3 1062.5,770.8 1078.5,773.8 1094.5,773.8 1110.5,773.8 1126.5,773.8 1142.5,777.0 1158.5,775.3 1174.5,773.3 1190.5,770.5 1206.5,763.3 1222.5,762.8 1238.5,764.8 1254.5,764.8 1270.5,760.5 1286.5,762.8 1302.5,774.0 1318.5,762.0 1334.5,759.8 1350.5,759.8" fill="none" stroke="#1e90ff" stroke-width="2" stroke-linejoin="round" shape-rendering="crispEdges"/>
<g class="cr">
<rect x="3" y="23" width="2" height="841" fill="#fff"/>
<rect x="5" y="25" width="1" height="797" fill="#000"/>
<rect x="5" y="274" width="6" height="6" fill="#ff0000"/>
<rect x="7" y="276" width="2" height="2" fill="#fff"/>
<rect x="5" y="305" width="6" height="6" fill="#ff0000"/>
<rect x="7" y="307" width="2" height="2" fill="#fff"/>
<rect x="5" y="360" width="6" height="6" fill="#32cd32"/>
<rect x="7" y="362" width="2" height="2" fill="#fff"/>
<rect x="5" y="395" width="6" height="6" fill="#0000ff"/>
<rect x="7" y="397" width="2" height="2" fill="#fff"/>
<rect x="5" y="429" width="6" height="6" fill="#0000ff"/>
<rect x="7" y="431" width="2" height="2" fill="#fff"/>
</g>
<line x1="1347.5" y1="467" x2="1416" y2="397" stroke="#e8141c" stroke-width="3.2"/>
<polygon points="1426.3,386.5 1408,393.5 1420.5,405.5" fill="#e8141c"/>
<g class="cr">
<rect x="1646" y="51" width="2" height="1" fill="#000"/>
<rect x="1646" y="84" width="2" height="1" fill="#000"/>
<rect x="1646" y="118" width="2" height="1" fill="#000"/>
<rect x="1646" y="151" width="2" height="1" fill="#000"/>
<rect x="1646" y="185" width="2" height="1" fill="#000"/>
<rect x="1646" y="219" width="2" height="1" fill="#000"/>
<rect x="1646" y="253" width="2" height="1" fill="#000"/>
<rect x="1646" y="287" width="2" height="1" fill="#000"/>
<rect x="1646" y="321" width="2" height="1" fill="#000"/>
<rect x="1646" y="355" width="2" height="1" fill="#000"/>
<rect x="1646" y="389" width="2" height="1" fill="#000"/>
<rect x="1646" y="422" width="2" height="1" fill="#000"/>
<rect x="1646" y="457" width="2" height="1" fill="#000"/>
<rect x="1646" y="491" width="2" height="1" fill="#000"/>
<rect x="1646" y="525" width="2" height="1" fill="#000"/>
<rect x="1646" y="558" width="2" height="1" fill="#000"/>
<rect x="1646" y="591" width="2" height="1" fill="#000"/>
</g>
<text x="1651" y="55" text-anchor="start" fill="#000" stroke="#000" stroke-width="0.2" style="font-size:10px" textLength="33" lengthAdjust="spacingAndGlyphs">0.91105</text>
<text x="1651" y="88" text-anchor="start" fill="#000" stroke="#000" stroke-width="0.2" style="font-size:10px" textLength="33" lengthAdjust="spacingAndGlyphs">0.90970</text>
<text x="1651" y="122" text-anchor="start" fill="#000" stroke="#000" stroke-width="0.2" style="font-size:10px" textLength="33" lengthAdjust="spacingAndGlyphs">0.90835</text>
<text x="1651" y="155" text-anchor="start" fill="#000" stroke="#000" stroke-width="0.2" style="font-size:10px" textLength="33" lengthAdjust="spacingAndGlyphs">0.90705</text>
<text x="1651" y="189" text-anchor="start" fill="#000" stroke="#000" stroke-width="0.2" style="font-size:10px" textLength="33" lengthAdjust="spacingAndGlyphs">0.90570</text>
<text x="1651" y="223" text-anchor="start" fill="#000" stroke="#000" stroke-width="0.2" style="font-size:10px" textLength="33" lengthAdjust="spacingAndGlyphs">0.90435</text>
<text x="1651" y="257" text-anchor="start" fill="#000" stroke="#000" stroke-width="0.2" style="font-size:10px" textLength="33" lengthAdjust="spacingAndGlyphs">0.90300</text>
<text x="1651" y="291" text-anchor="start" fill="#000" stroke="#000" stroke-width="0.2" style="font-size:10px" textLength="33" lengthAdjust="spacingAndGlyphs">0.90165</text>
<text x="1651" y="325" text-anchor="start" fill="#000" stroke="#000" stroke-width="0.2" style="font-size:10px" textLength="33" lengthAdjust="spacingAndGlyphs">0.90030</text>
<text x="1651" y="359" text-anchor="start" fill="#000" stroke="#000" stroke-width="0.2" style="font-size:10px" textLength="33" lengthAdjust="spacingAndGlyphs">0.89895</text>
<text x="1651" y="393" text-anchor="start" fill="#000" stroke="#000" stroke-width="0.2" style="font-size:10px" textLength="33" lengthAdjust="spacingAndGlyphs">0.89760</text>
<text x="1651" y="426" text-anchor="start" fill="#000" stroke="#000" stroke-width="0.2" style="font-size:10px" textLength="33" lengthAdjust="spacingAndGlyphs">0.89625</text>
<text x="1651" y="461" text-anchor="start" fill="#000" stroke="#000" stroke-width="0.2" style="font-size:10px" textLength="33" lengthAdjust="spacingAndGlyphs">0.89490</text>
<text x="1651" y="495" text-anchor="start" fill="#000" stroke="#000" stroke-width="0.2" style="font-size:10px" textLength="33" lengthAdjust="spacingAndGlyphs">0.89355</text>
<text x="1651" y="529" text-anchor="start" fill="#000" stroke="#000" stroke-width="0.2" style="font-size:10px" textLength="33" lengthAdjust="spacingAndGlyphs">0.89220</text>
<text x="1651" y="562" text-anchor="start" fill="#000" stroke="#000" stroke-width="0.2" style="font-size:10px" textLength="33" lengthAdjust="spacingAndGlyphs">0.89090</text>
<text x="1651" y="595" text-anchor="start" fill="#000" stroke="#000" stroke-width="0.2" style="font-size:10px" textLength="33" lengthAdjust="spacingAndGlyphs">0.88960</text>
<text x="1649" y="607" text-anchor="start" fill="#000" stroke="#000" stroke-width="0.2" style="font-size:10px" textLength="38" lengthAdjust="spacingAndGlyphs">0.001002</text>
<rect x="1646" y="622" width="1" height="1" fill="#000" class='cr'/>
<text x="1649" y="626" text-anchor="start" fill="#000" stroke="#000" stroke-width="0.2" style="font-size:10px" textLength="18" lengthAdjust="spacingAndGlyphs">0.00</text>
<text x="1649" y="712" text-anchor="start" fill="#000" stroke="#000" stroke-width="0.2" style="font-size:10px" textLength="41" lengthAdjust="spacingAndGlyphs">-0.003793</text>
<text x="1649" y="728" text-anchor="start" fill="#000" stroke="#000" stroke-width="0.2" style="font-size:10px" textLength="15" lengthAdjust="spacingAndGlyphs">100</text>
<text x="1648.3" y="743" text-anchor="start" fill="#000" stroke="#000" stroke-width="0.2" style="font-size:10px" textLength="9.7" lengthAdjust="spacingAndGlyphs">80</text>
<text x="1648.3" y="773" text-anchor="start" fill="#000" stroke="#000" stroke-width="0.2" style="font-size:10px" textLength="9.7" lengthAdjust="spacingAndGlyphs">50</text>
<text x="1648.8" y="809" text-anchor="start" fill="#000" stroke="#000" stroke-width="0.2" style="font-size:10px" textLength="9.4" lengthAdjust="spacingAndGlyphs">15</text>
<text x="1649.3" y="818" text-anchor="start" fill="#000" stroke="#000" stroke-width="0.2" style="font-size:10px" textLength="4.7" lengthAdjust="spacingAndGlyphs">0</text>
<g class="cr">
<rect x="1647" y="271" width="41" height="11" fill="#ff0000"/>
<rect x="1647" y="302" width="41" height="11" fill="#ff0000"/>
<rect x="1647" y="337" width="41" height="11" fill="#000000"/>
<rect x="1647" y="357" width="41" height="11" fill="#32cd32"/>
<rect x="1647" y="392" width="41" height="11" fill="#0000ff"/>
<rect x="1647" y="426" width="41" height="11" fill="#0000ff"/>
</g>
<text x="1651" y="280" text-anchor="start" fill="#fff" stroke="#fff" stroke-width="0.2" style="font-size:10px" textLength="33" lengthAdjust="spacingAndGlyphs">0.90206</text>
<text x="1651" y="311" text-anchor="start" fill="#fff" stroke="#fff" stroke-width="0.2" style="font-size:10px" textLength="33" lengthAdjust="spacingAndGlyphs">0.90083</text>
<text x="1651" y="346" text-anchor="start" fill="#fff" stroke="#fff" stroke-width="0.2" style="font-size:10px" textLength="33" lengthAdjust="spacingAndGlyphs">0.89947</text>
<text x="1651" y="366" text-anchor="start" fill="#fff" stroke="#fff" stroke-width="0.2" style="font-size:10px" textLength="33" lengthAdjust="spacingAndGlyphs">0.89865</text>
<text x="1651" y="401" text-anchor="start" fill="#fff" stroke="#fff" stroke-width="0.2" style="font-size:10px" textLength="33" lengthAdjust="spacingAndGlyphs">0.89726</text>
<text x="1651" y="435" text-anchor="start" fill="#fff" stroke="#fff" stroke-width="0.2" style="font-size:10px" textLength="33" lengthAdjust="spacingAndGlyphs">0.89592</text>
<g class="cr">
<rect x="9" y="32" width="7" height="1" fill="#000"/>
<rect x="10" y="33" width="5" height="1" fill="#000"/>
<rect x="11" y="34" width="3" height="1" fill="#000"/>
<rect x="12" y="35" width="1" height="1" fill="#000"/>
</g>
<text x="21.3" y="37.5" text-anchor="start" fill="#000" stroke="#000" stroke-width="0.2" style="font-size:10px" textLength="56.8" lengthAdjust="spacingAndGlyphs">USDCHF-,H4</text>
<text x="85.4" y="37.6" text-anchor="start" fill="#000" stroke="#000" stroke-width="0.2" style="font-size:10px" textLength="32.4" lengthAdjust="spacingAndGlyphs">0.89963</text>
<text x="121.4" y="37.6" text-anchor="start" fill="#000" stroke="#000" stroke-width="0.2" style="font-size:10px" textLength="32.4" lengthAdjust="spacingAndGlyphs">0.89968</text>
<text x="157.4" y="37.6" text-anchor="start" fill="#000" stroke="#000" stroke-width="0.2" style="font-size:10px" textLength="32.4" lengthAdjust="spacingAndGlyphs">0.89931</text>
<text x="193.4" y="37.6" text-anchor="start" fill="#000" stroke="#000" stroke-width="0.2" style="font-size:10px" textLength="32.4" lengthAdjust="spacingAndGlyphs">0.89947</text>
<text x="10.6" y="609" text-anchor="start" fill="#000" stroke="#000" stroke-width="0.2" style="font-size:10px" textLength="64.6" lengthAdjust="spacingAndGlyphs">MACD(12,26,9)</text>
<text x="79.4" y="609" text-anchor="start" fill="#000" stroke="#000" stroke-width="0.2" style="font-size:10px" textLength="37.1" lengthAdjust="spacingAndGlyphs">0.000784</text>
<text x="120.6" y="609" text-anchor="start" fill="#000" stroke="#000" stroke-width="0.2" style="font-size:10px" textLength="37.1" lengthAdjust="spacingAndGlyphs">0.000311</text>
<text x="10.6" y="730" text-anchor="start" fill="#000" stroke="#000" stroke-width="0.2" style="font-size:10px" textLength="31.1" lengthAdjust="spacingAndGlyphs">RSI(14)</text>
<text x="45.4" y="730" text-anchor="start" fill="#000" stroke="#000" stroke-width="0.2" style="font-size:10px" textLength="32.3" lengthAdjust="spacingAndGlyphs">59.5382</text>
<g class="cr">
<rect x="6" y="822" width="1" height="3" fill="#000"/>
<rect x="70" y="822" width="1" height="3" fill="#000"/>
<rect x="134" y="822" width="1" height="3" fill="#000"/>
<rect x="198" y="822" width="1" height="3" fill="#000"/>
<rect x="262" y="822" width="1" height="3" fill="#000"/>
<rect x="326" y="822" width="1" height="3" fill="#000"/>
<rect x="390" y="822" width="1" height="3" fill="#000"/>
<rect x="454" y="822" width="1" height="3" fill="#000"/>
<rect x="518" y="822" width="1" height="3" fill="#000"/>
<rect x="582" y="822" width="1" height="3" fill="#000"/>
<rect x="646" y="822" width="1" height="3" fill="#000"/>
<rect x="710" y="822" width="1" height="3" fill="#000"/>
<rect x="774" y="822" width="1" height="3" fill="#000"/>
<rect x="838" y="822" width="1" height="3" fill="#000"/>
<rect x="902" y="822" width="1" height="3" fill="#000"/>
<rect x="966" y="822" width="1" height="3" fill="#000"/>
<rect x="1030" y="822" width="1" height="3" fill="#000"/>
<rect x="1094" y="822" width="1" height="3" fill="#000"/>
<rect x="1158" y="822" width="1" height="3" fill="#000"/>
<rect x="1222" y="822" width="1" height="3" fill="#000"/>
<rect x="1286" y="822" width="1" height="3" fill="#000"/>
<rect x="1350" y="822" width="1" height="3" fill="#000"/>
</g>
<text x="5.4" y="834" text-anchor="start" fill="#000" stroke="#000" stroke-width="0.2" style="font-size:10px" textLength="49.5" lengthAdjust="spacingAndGlyphs">11 Jun 2023</text>
<text x="69.4" y="834" text-anchor="start" fill="#000" stroke="#000" stroke-width="0.2" style="font-size:10px" textLength="52.7" lengthAdjust="spacingAndGlyphs">12 Jun 12:00</text>
<text x="133.4" y="834" text-anchor="start" fill="#000" stroke="#000" stroke-width="0.2" style="font-size:10px" textLength="52.7" lengthAdjust="spacingAndGlyphs">13 Jun 04:00</text>
<text x="197.4" y="834" text-anchor="start" fill="#000" stroke="#000" stroke-width="0.2" style="font-size:10px" textLength="52.7" lengthAdjust="spacingAndGlyphs">13 Jun 20:00</text>
<text x="261.4" y="834" text-anchor="start" fill="#000" stroke="#000" stroke-width="0.2" style="font-size:10px" textLength="52.7" lengthAdjust="spacingAndGlyphs">14 Jun 12:00</text>
<text x="325.4" y="834" text-anchor="start" fill="#000" stroke="#000" stroke-width="0.2" style="font-size:10px" textLength="52.7" lengthAdjust="spacingAndGlyphs">15 Jun 04:00</text>
<text x="389.4" y="834" text-anchor="start" fill="#000" stroke="#000" stroke-width="0.2" style="font-size:10px" textLength="52.7" lengthAdjust="spacingAndGlyphs">15 Jun 20:00</text>
<text x="453.4" y="834" text-anchor="start" fill="#000" stroke="#000" stroke-width="0.2" style="font-size:10px" textLength="52.7" lengthAdjust="spacingAndGlyphs">16 Jun 12:00</text>
<text x="517.4" y="834" text-anchor="start" fill="#000" stroke="#000" stroke-width="0.2" style="font-size:10px" textLength="52.7" lengthAdjust="spacingAndGlyphs">19 Jun 04:00</text>
<text x="581.4" y="834" text-anchor="start" fill="#000" stroke="#000" stroke-width="0.2" style="font-size:10px" textLength="52.7" lengthAdjust="spacingAndGlyphs">19 Jun 20:00</text>
<text x="645.4" y="834" text-anchor="start" fill="#000" stroke="#000" stroke-width="0.2" style="font-size:10px" textLength="52.7" lengthAdjust="spacingAndGlyphs">20 Jun 12:00</text>
<text x="709.4" y="834" text-anchor="start" fill="#000" stroke="#000" stroke-width="0.2" style="font-size:10px" textLength="52.7" lengthAdjust="spacingAndGlyphs">21 Jun 04:00</text>
<text x="773.4" y="834" text-anchor="start" fill="#000" stroke="#000" stroke-width="0.2" style="font-size:10px" textLength="52.7" lengthAdjust="spacingAndGlyphs">21 Jun 20:00</text>
<text x="837.4" y="834" text-anchor="start" fill="#000" stroke="#000" stroke-width="0.2" style="font-size:10px" textLength="52.7" lengthAdjust="spacingAndGlyphs">22 Jun 12:00</text>
<text x="901.4" y="834" text-anchor="start" fill="#000" stroke="#000" stroke-width="0.2" style="font-size:10px" textLength="52.7" lengthAdjust="spacingAndGlyphs">23 Jun 04:00</text>
<text x="965.4" y="834" text-anchor="start" fill="#000" stroke="#000" stroke-width="0.2" style="font-size:10px" textLength="52.7" lengthAdjust="spacingAndGlyphs">25 Jun 23:00</text>
<text x="1029.4" y="834" text-anchor="start" fill="#000" stroke="#000" stroke-width="0.2" style="font-size:10px" textLength="52.7" lengthAdjust="spacingAndGlyphs">26 Jun 12:00</text>
<text x="1093.4" y="834" text-anchor="start" fill="#000" stroke="#000" stroke-width="0.2" style="font-size:10px" textLength="52.7" lengthAdjust="spacingAndGlyphs">27 Jun 04:00</text>
<text x="1157.4" y="834" text-anchor="start" fill="#000" stroke="#000" stroke-width="0.2" style="font-size:10px" textLength="52.7" lengthAdjust="spacingAndGlyphs">27 Jun 20:00</text>
<text x="1221.4" y="834" text-anchor="start" fill="#000" stroke="#000" stroke-width="0.2" style="font-size:10px" textLength="52.7" lengthAdjust="spacingAndGlyphs">28 Jun 12:00</text>
<text x="1285.4" y="834" text-anchor="start" fill="#000" stroke="#000" stroke-width="0.2" style="font-size:10px" textLength="52.7" lengthAdjust="spacingAndGlyphs">29 Jun 04:00</text>
<text x="1349.4" y="834" text-anchor="start" fill="#000" stroke="#000" stroke-width="0.2" style="font-size:10px" textLength="52.7" lengthAdjust="spacingAndGlyphs">29 Jun 20:00</text>
<g class="cr">
<rect x="1377" y="26" width="9" height="1" fill="#000"/>
<rect x="1378" y="27" width="7" height="1" fill="#000"/>
<rect x="1379" y="28" width="5" height="1" fill="#000"/>
<rect x="1380" y="29" width="3" height="1" fill="#000"/>
<rect x="1381" y="30" width="1" height="1" fill="#000"/>
</g>
</svg></body></html>
